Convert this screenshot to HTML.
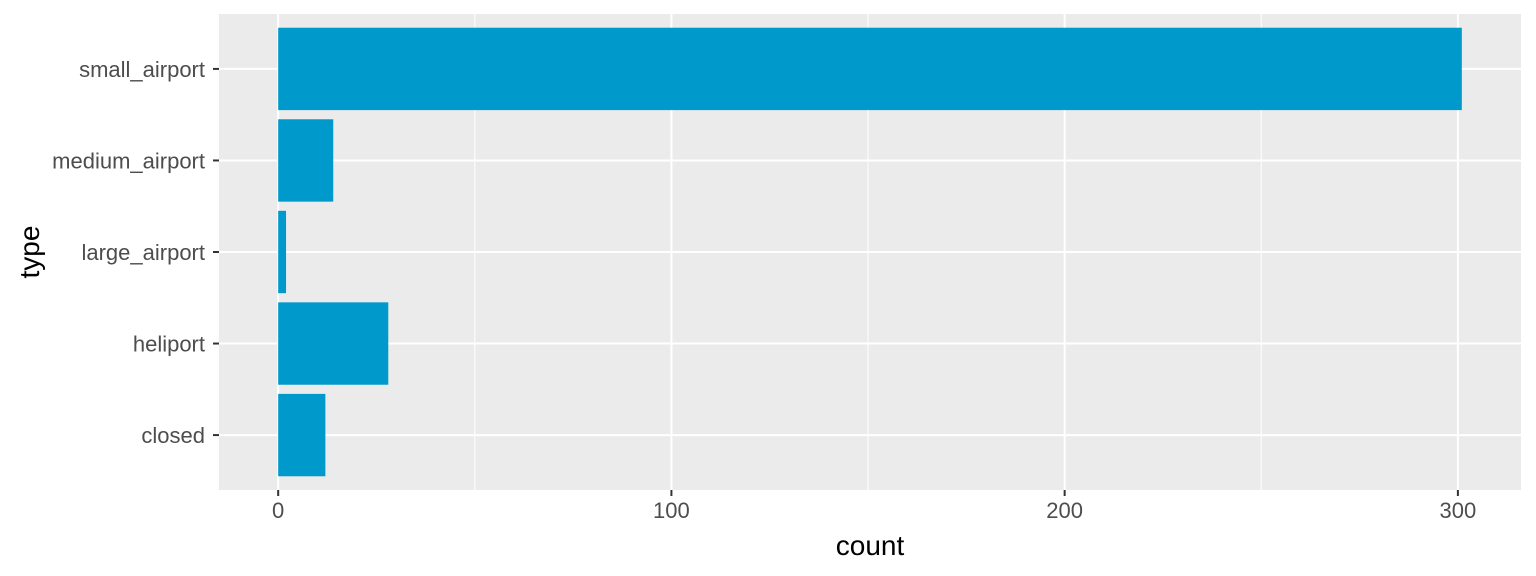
<!DOCTYPE html>
<html><head><meta charset="utf-8"><style>
html,body{margin:0;padding:0;background:#fff;}
svg{display:block;font-family:"Liberation Sans",Arial,sans-serif;}
</style></head><body>
<svg id="chart" width="1536" height="576" viewBox="0 0 1536 576">
<rect x="0" y="0" width="1536" height="576" fill="#fff"/>
<rect x="219" y="14" width="1302" height="476" fill="#EBEBEB"/>
<g id="grid"></g><g id="bars"></g><g id="axes"></g>
<text x="870" y="555" font-size="28" text-anchor="middle" fill="#000">count</text>
<text transform="translate(39,252) rotate(-90)" font-size="28" text-anchor="middle" fill="#000">type</text>
</svg>
<script>
const categories = ["closed","heliport","large_airport","medium_airport","small_airport"];
const counts = [12, 28, 2, 14, 301];
const xTicks = [0, 100, 200, 300];
const xMinorTicks = [50, 150, 250];

const NS = "http://www.w3.org/2000/svg";
const pL = 219, pR = 1521, pT = 14, pB = 490;
const xmin = -15.05, xmax = 316.05;
function xs(v){ return pL + (v - xmin) / (xmax - xmin) * (pR - pL); }
const yLo = 0.4, yHi = categories.length + 0.6;
function ys(i){ return pB - ((i + 1) - yLo) / (yHi - yLo) * (pB - pT); }
const band = (pB - pT) / (yHi - yLo);
function mk(tag, attrs, parent){ const e = document.createElementNS(NS, tag); for (const k in attrs) e.setAttribute(k, attrs[k]); parent.appendChild(e); return e; }
const grid = document.getElementById("grid"), bars = document.getElementById("bars"), axes = document.getElementById("axes");

xMinorTicks.forEach(v => {
  const l = mk("line", {x1: xs(v), x2: xs(v), y1: pT, y2: pB, stroke: "#fff", "stroke-width": 1}, grid);
  
  
});
xTicks.forEach(v => {
  const l = mk("line", {x1: xs(v), x2: xs(v), y1: pT, y2: pB, stroke: "#fff", "stroke-width": 2}, grid);
  
  
  const t = mk("line", {x1: xs(v), x2: xs(v), y1: pB, y2: pB + 6, stroke: "#333", "stroke-width": 2}, axes);
  
  
  const tx = mk("text", {x: xs(v), y: pB + 28, "font-size": 22, "text-anchor": "middle", fill: "#4D4D4D"}, axes);
  tx.textContent = v;
  
  
});
categories.forEach((c, i) => {
  const y = ys(i);
  const l = mk("line", {x1: pL, x2: pR, y1: y, y2: y, stroke: "#fff", "stroke-width": 2}, grid);
  
  
  const h = band * 0.9;
  const r = mk("rect", {x: xs(0), y: y - h / 2, width: xs(counts[i]) - xs(0), height: h, fill: "#0099CC"}, bars);
  
  
  const t = mk("line", {x1: pL - 6, x2: pL, y1: y, y2: y, stroke: "#333", "stroke-width": 2}, axes);
  
  
  const tx = mk("text", {x: pL - 14, y: y + 8, "font-size": 22, "text-anchor": "end", fill: "#4D4D4D"}, axes);
  tx.textContent = c;
  
  
});
</script>
</body></html>
